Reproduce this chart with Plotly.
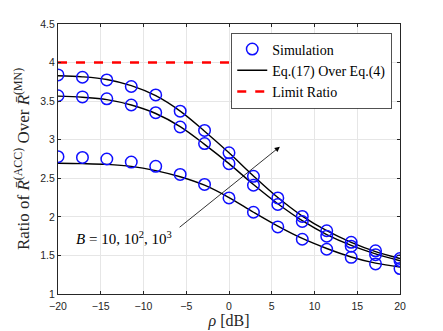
"""Ratio of R(ACC) over R(MN) versus rho, simulation vs analysis."""

import plotly.graph_objects as go

rho_db = [-20, -17.14, -14.29, -11.43, -8.57, -5.71, -2.86, 0,
          2.86, 5.71, 8.57, 11.43, 14.29, 17.14, 20]

# simulation markers, B = 10^3, 10^2, 10
sim_b1000 = [3.84, 3.81, 3.775, 3.69, 3.58, 3.37, 3.12, 2.83,
             2.525, 2.245, 2.005, 1.82, 1.67, 1.56, 1.46]
sim_b100 = [3.57, 3.555, 3.53, 3.45, 3.35, 3.165, 2.95, 2.69,
            2.41, 2.16, 1.94, 1.75, 1.62, 1.51, 1.43]
sim_b10 = [2.78, 2.77, 2.75, 2.71, 2.655, 2.55, 2.42, 2.245,
           2.06, 1.87, 1.71, 1.58, 1.475, 1.39, 1.33]

# analytical curves, Eq.(17) over Eq.(4)
ana_b1000 = [3.83, 3.815, 3.78, 3.70, 3.57, 3.37, 3.11, 2.83,
             2.53, 2.25, 2.01, 1.82, 1.67, 1.55, 1.46]
ana_b100 = [3.565, 3.55, 3.52, 3.45, 3.34, 3.17, 2.94, 2.69,
            2.42, 2.17, 1.95, 1.77, 1.63, 1.52, 1.43]
ana_b10 = [2.695, 2.69, 2.68, 2.655, 2.60, 2.52, 2.41, 2.25,
           2.06, 1.88, 1.72, 1.59, 1.48, 1.40, 1.35]

limit_ratio = 4
x_ticks = [-20, -15, -10, -5, 0, 5, 10, 15, 20]
y_ticks = [1, 1.5, 2, 2.5, 3, 3.5, 4, 4.5]

SERIF = "Liberation Serif, DejaVu Serif, serif"
SANS = "Liberation Sans, Arial, sans-serif"
AXIS = "#262626"

fig = go.Figure()

for i, ana in enumerate([ana_b1000, ana_b100, ana_b10]):
    fig.add_trace(go.Scatter(
        x=rho_db, y=ana, mode="lines", line_shape="spline",
        line=dict(color="black", width=1.4),
        name="Eq.(17) Over Eq.(4)", legendrank=2, showlegend=(i == 0),
    ))

for i, sim in enumerate([sim_b1000, sim_b100, sim_b10]):
    fig.add_trace(go.Scatter(
        x=rho_db, y=sim, mode="markers",
        marker=dict(symbol="circle-open", size=11.5, color="#0f0fff",
                    line=dict(width=1.5)),
        name="Simulation", legendrank=1, showlegend=(i == 0),
    ))

fig.add_trace(go.Scatter(
    x=[rho_db[0], rho_db[-1]], y=[limit_ratio, limit_ratio], mode="lines",
    line=dict(color="#ff0000", width=2.5, dash="dash"),
    name="Limit Ratio", legendrank=3,
))

fig.add_annotation(
    x=5.95, y=2.91, ax=-5.95, ay=1.85, axref="x", ayref="y",
    text="", showarrow=True, arrowhead=2, arrowsize=1.3, arrowwidth=0.8,
    arrowcolor="black",
)
fig.add_annotation(
    x=-12.3, y=1.72, showarrow=False,
    text="<i>B</i> = 10, 10<sup>2</sup>, 10<sup>3</sup>",
    font=dict(family=SERIF, size=15, color="black"),
)

fig.update_xaxes(
    range=[-20, 20], tickvals=x_ticks, showgrid=True, gridcolor="#e6e6e6",
    zeroline=False, showline=True, linecolor=AXIS, linewidth=1, mirror="ticks",
    ticks="inside", ticklen=3, tickcolor=AXIS, automargin=False,
    ticklabelstandoff=2,
    tickfont=dict(family=SANS, size=10.5, color=AXIS),
    title=dict(text="<i>ρ</i> [dB]", font=dict(family=SERIF, size=16, color=AXIS),
               standoff=0),
)
fig.update_yaxes(
    range=[1, 4.5], tickvals=y_ticks, showgrid=True, gridcolor="#e6e6e6",
    zeroline=False, showline=True, linecolor=AXIS, linewidth=1, mirror="ticks",
    ticks="inside", ticklen=3, tickcolor=AXIS, automargin=False,
    tickfont=dict(family=SANS, size=10.5, color=AXIS),
    title=dict(text="Ratio of <i>R̄</i><sup>(ACC)</sup> Over <i>R̄</i><sup>(MN)</sup>",
               font=dict(family=SERIF, size=17, color=AXIS), standoff=6),
)

# page body adds an 8px offset, so margins are shifted to compensate
fig.update_layout(
    width=443, height=331,
    margin=dict(l=50, r=51, t=16, b=45),
    plot_bgcolor="white", paper_bgcolor="white",
    legend=dict(
        x=0.975, y=0.968, xanchor="right", yanchor="top",
        bgcolor="white", bordercolor=AXIS, borderwidth=0.8,
        font=dict(family=SERIF, size=14, color="black"),
        tracegroupgap=0, itemwidth=30,
    ),
)

fig.write_html("out.html")
